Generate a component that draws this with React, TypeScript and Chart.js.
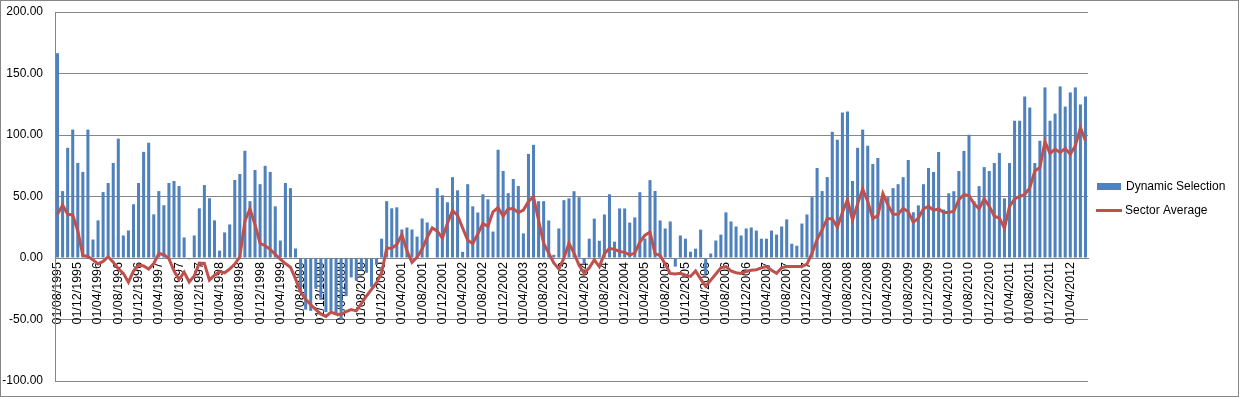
import React, { useEffect, useRef } from "react";
import { Chart, registerables } from "chart.js";

Chart.register(...registerables);

// Monthly categories: 01/08/1995 .. 01/07/2012
const START_YEAR = 1995;
const START_MONTH = 8;
const MONTH_COUNT = 204;
const categories: string[] = [];
for (let i = 0; i < MONTH_COUNT; i++) {
  const m = ((START_MONTH - 1 + i) % 12) + 1;
  const y = START_YEAR + Math.floor((START_MONTH - 1 + i) / 12);
  categories.push(`01/${String(m).padStart(2, "0")}/${y}`);
}
const TICK_EVERY = 4;

// Dynamic Selection (bars), by calendar year
const ds1995 = [166.5, 54.4, 89.6, 104.4, 77.3];
const ds1996 = [70, 104.4, 15, 30.6, 53.6, 61, 77.3, 97, 18.3, 22.4, 43.7, 61];
const ds1997 = [86.3, 93.7, 35.5, 54.4, 42.9, 61, 62.6, 58.5, 16.7, -1, 18.3, 40.4];
const ds1998 = [59.3, 48.6, 30.6, 6, 20.8, 27.3, 63.4, 68.3, 87.2, 46.2, 71.6, 60];
const ds1999 = [74.9, 70, 42, 14.2, 61, 56.8, 7.7, -28, -42, -43, -25, -34];
const ds2000 = [-44, -43, -45, -50, -31, -15.8, -18.5, -10, -12, -23.4, -5.5, 15.7];
const ds2001 = [46.2, 40.4, 41.2, 23.2, 24.8, 23.2, 17.4, 32.1, 28.9, 0, 56.8, 51];
const ds2002 = [45.3, 65.7, 55, 5, 60, 42, 37, 51.8, 47.7, 21.5, 88, 70.8];
const ds2003 = [52.7, 64.2, 58.5, 20, 84.6, 92, 46.2, 46.2, 30.5, 2.6, 24, 47];
const ds2004 = [48.5, 54.3, 49.4, -4.7, 15.7, 32, 14, 35.4, 51.8, 13.3, 40.3, 40.3];
const ds2005 = [28.8, 33, 53.5, 15.8, 63.3, 54.5, 30.5, 24, 29.7, -7, 18.3, 15.7];
const ds2006 = [5.1, 7.6, 23.1, -13, 3.6, 14.2, 19, 37.1, 29.7, 25.6, 18.3, 24];
const ds2007 = [24.8, 22.3, 15.7, 15.7, 22.3, 19, 25.6, 31.4, 11.6, 10, 28, 35.4];
const ds2008 = [49.5, 73.2, 54.4, 65.8, 102.6, 96.2, 118.3, 119.1, 62.6, 89.6, 104.4, 91.3];
const ds2009 = [76.4, 81.3, 51, 49.5, 56.8, 60, 65.7, 79.7, 37.2, 42.8, 60, 73.2];
const ds2010 = [69.9, 86.2, 39.4, 52.6, 54.3, 70.7, 87.1, 100.2, 46.1, 58.4, 73.9, 70.7];
const ds2011 = [77.2, 85.4, 48.5, 77.2, 111.6, 111.6, 131.3, 122.3, 77.2, 95.3, 138.7, 111.6];
const ds2012 = [117.4, 139.5, 123.1, 134.6, 138.7, 124.8, 131.3];

// Sector Average (line), by calendar year
const sa1995 = [35.5, 43, 35.5, 35, 22];
const sa1996 = [2, 1.2, -1.5, -4.8, -2.8, 1, -3.4, -8.7, -12.5, -19.7, -10.7, -5.7];
const sa1997 = [-6.5, -9, -4.5, 3.7, 2.7, -0.5, -10.5, -17.5, -11.5, -19.5, -14.5, -4.2];
const sa1998 = [-4.4, -18, -14, -11, -12, -9, -5, 1, 30, 40, 27, 12];
const sa1999 = [10, 7, 3, -1, -4.5, -7.5, -17, -27.5, -33.5, -38, -42, -45.5];
const sa2000 = [-47.5, -44, -45.5, -46, -43.5, -42, -43, -37, -31, -25.5, -20, -12];
const sa2001 = [8, 8, 11, 19, 6, -3.5, 0.5, 7.3, 16.7, 24.4, 21.8, 16];
const sa2002 = [28.3, 38.5, 34.7, 24.4, 14.5, 11.7, 19.6, 28, 25.8, 37.5, 41, 34];
const sa2003 = [40, 40, 37, 39, 46, 49.7, 30.5, 12, 4, -4, -9, 0];
const sa2004 = [12, 4, -6, -12.5, -8, -1.5, -7, 3.5, 7.8, 7, 5.3, 4.6];
const sa2005 = [2.6, 4, 13, 18.5, 21, 3.5, 2, -5, -12.5, -13, -12.5, -14];
const sa2006 = [-15, -10.5, -17, -23, -18, -13, -8, -7, -10.5, -12, -12.5, -11];
const sa2007 = [-10, -9.5, -8, -7, -10, -12.5, -8, -7, -7, -7, -7, -5];
const sa2008 = [4, 15, 23, 32, 32, 25, 37, 47.5, 31, 44, 56, 46];
const sa2009 = [32, 34.5, 52.5, 43, 35.5, 35.5, 40.5, 37.5, 29, 32.5, 40, 42];
const sa2010 = [38.8, 40, 37, 37, 38, 47.5, 51.6, 50.8, 44, 40, 48, 42];
const sa2011 = [34, 32.5, 24.3, 42, 48, 50, 51.6, 57, 70.8, 73.5, 94.5, 85];
const sa2012 = [88.5, 85.8, 89, 84.4, 91.3, 106, 95.4];

const dynamicSelection = [
  ...ds1995, ...ds1996, ...ds1997, ...ds1998, ...ds1999, ...ds2000, ...ds2001,
  ...ds2002, ...ds2003, ...ds2004, ...ds2005, ...ds2006, ...ds2007, ...ds2008,
  ...ds2009, ...ds2010, ...ds2011, ...ds2012,
];
const sectorAverage = [
  ...sa1995, ...sa1996, ...sa1997, ...sa1998, ...sa1999, ...sa2000, ...sa2001,
  ...sa2002, ...sa2003, ...sa2004, ...sa2005, ...sa2006, ...sa2007, ...sa2008,
  ...sa2009, ...sa2010, ...sa2011, ...sa2012,
];

const Y_MIN = -100;
const Y_MAX = 200;
const Y_STEP = 50;

const BAR_COLOR = "#4F81BD";
const LINE_COLOR = "#C0504D";
const GRID_COLOR = "#868686";
const FONT = "'Liberation Sans', Arial, sans-serif";

const W = 1239;
const H = 397;

const frameAndLegend = {
  id: "frameAndLegend",
  beforeDraw(chart: any) {
    const ctx = chart.ctx;
    ctx.save();
    ctx.fillStyle = "#ffffff";
    ctx.fillRect(0, 0, chart.width, chart.height);
    ctx.restore();
  },
  afterDraw(chart: any) {
    const ctx = chart.ctx;
    ctx.save();
    ctx.strokeStyle = GRID_COLOR;
    ctx.lineWidth = 1;
    ctx.strokeRect(0.5, 0.5, chart.width - 1, chart.height - 1);
    // legend
    ctx.fillStyle = BAR_COLOR;
    ctx.fillRect(1097, 183, 24, 7);
    ctx.strokeStyle = LINE_COLOR;
    ctx.lineWidth = 3;
    ctx.beginPath();
    ctx.moveTo(1096, 210.5);
    ctx.lineTo(1122, 210.5);
    ctx.stroke();
    ctx.fillStyle = "#000000";
    ctx.font = `12px ${FONT}`;
    ctx.textBaseline = "middle";
    ctx.textAlign = "left";
    ctx.fillText("Dynamic Selection", 1126, 187);
    ctx.fillText("Sector Average", 1125, 211);
    ctx.restore();
  },
};

export default function App() {
  const ref = useRef<HTMLCanvasElement | null>(null);
  useEffect(() => {
    document.body.style.margin = "0";
    const canvas = ref.current;
    if (!canvas) return;
    const chart = new Chart(canvas, {
      type: "bar",
      data: {
        labels: categories,
        datasets: [
          {
            type: "line",
            label: "Sector Average",
            data: sectorAverage,
            borderColor: LINE_COLOR,
            backgroundColor: LINE_COLOR,
            borderWidth: 3,
            pointRadius: 0,
            tension: 0,
            order: 0,
          } as any,
          {
            type: "bar",
            label: "Dynamic Selection",
            data: dynamicSelection,
            backgroundColor: BAR_COLOR,
            categoryPercentage: 1,
            barPercentage: 0.6,
            order: 1,
          },
        ],
      },
      options: {
        animation: false,
        responsive: false,
        devicePixelRatio: 1,
        layout: { padding: { top: 12, right: 151, bottom: 16, left: 0 } },
        plugins: { legend: { display: false }, tooltip: { enabled: false } },
        scales: {
          x: {
            position: { y: 0 } as any,
            grid: { display: false, drawTicks: false },
            border: { display: true, color: GRID_COLOR },
            ticks: {
              autoSkip: false,
              maxRotation: 90,
              minRotation: 90,
              padding: 4,
              color: "#000000",
              font: { family: FONT, size: 12.5 },
              callback: (_v: any, i: number) => (i % TICK_EVERY === 0 ? categories[i] : null),
            },
          },
          y: {
            min: Y_MIN,
            max: Y_MAX,
            grid: { color: GRID_COLOR, drawTicks: true, tickLength: 12, tickColor: "rgba(0,0,0,0)" },
            border: { display: true, color: GRID_COLOR },
            afterFit: (s: any) => {
              s.width = 55;
            },
            ticks: {
              stepSize: Y_STEP,
              padding: 0,
              color: "#000000",
              font: { family: FONT, size: 12 },
              callback: (v: any) => Number(v).toFixed(2),
            },
          },
        },
      },
      plugins: [frameAndLegend],
    });
    return () => chart.destroy();
  }, []);
  return <canvas ref={ref} width={W} height={H} style={{ display: "block", width: W, height: H }} />;
}
